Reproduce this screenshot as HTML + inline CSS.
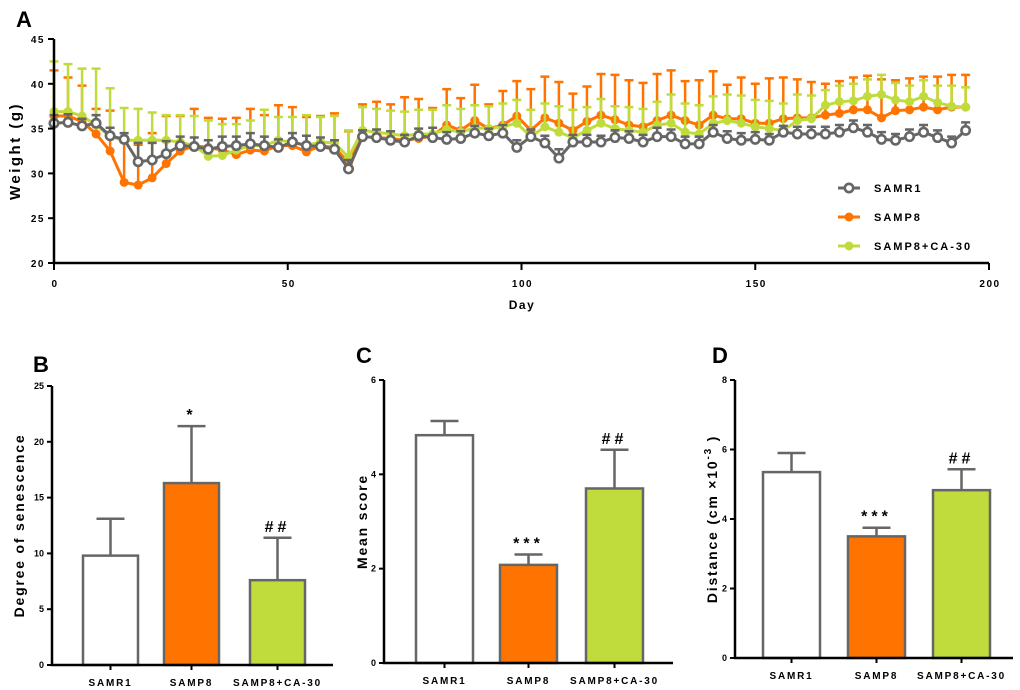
<!DOCTYPE html>
<html><head><meta charset="utf-8">
<style>
html,body{margin:0;padding:0;background:#fff;}
svg{display:block;font-family:"Liberation Sans",Arial,sans-serif;}
.tk{font-size:10px;font-weight:bold;letter-spacing:1.5px;fill:#000;}
.ttl{font-size:14px;font-weight:bold;letter-spacing:1.8px;fill:#000;}
.pl{font-size:22px;font-weight:bold;fill:#000;}
</style></head>
<body>
<svg id="fig" width="1020" height="690" viewBox="0 0 1020 690" xmlns="http://www.w3.org/2000/svg"></svg>
<script>
// ---- Panel A data ----
const days = [];
for (let d = 0; d <= 195; d += 3) days.push(d);
const samr1 = [35.6,35.7,35.3,35.6,34.2,33.8,31.3,31.5,32.2,33.1,33.0,32.7,33.0,33.1,33.3,33.1,32.9,33.5,33.1,33.0,32.7,30.5,
34.1,34.0,33.7,33.5,34.2,34.0,33.8,33.9,34.5,34.2,34.5,32.9,34.1,33.4,31.7,33.5,33.5,33.5,34.0,33.9,33.5,34.1,34.1,
33.3,33.3,34.6,33.9,33.7,33.8,33.7,34.6,34.4,34.4,34.4,34.6,35.1,34.6,33.8,33.7,34.1,34.6,34.0,33.4,34.8];
const samp8 = [36.4,36.4,35.8,34.4,32.5,29.0,28.7,29.5,31.1,32.5,33.1,32.9,32.6,32.1,32.6,32.5,33.1,33.1,32.4,33.1,32.9,31.2,
34.1,34.0,33.9,33.7,33.9,34.2,35.4,34.8,35.9,35.0,35.4,36.4,34.8,36.2,35.6,34.8,35.8,36.5,36.0,35.4,35.2,35.9,36.5,
35.9,35.4,36.5,36.1,36.1,35.6,35.6,36.1,36.2,36.2,36.5,36.7,37.1,37.1,36.2,37.0,37.1,37.4,37.1,37.4,37.4];
const ca30 = [36.9,36.9,36.4,35.4,34.1,33.7,33.7,33.7,33.7,33.5,33.1,31.9,32.0,32.6,33.1,33.1,33.7,33.5,33.1,33.5,33.4,31.8,
34.8,34.6,34.4,34.2,34.4,34.4,34.9,34.6,35.1,35.0,35.2,35.6,34.1,35.2,34.6,34.0,34.8,35.6,35.0,34.8,34.6,35.4,35.6,
34.6,34.4,35.6,35.9,35.6,35.2,35.0,34.8,35.9,36.1,37.6,38.0,38.1,38.6,38.8,38.2,38.0,38.6,37.9,37.5,37.4];
const errR1 = [0.9,0.9,0.8,0.9,0.9,0.7,2.1,1.9,1.4,1.0,1.0,1.0,1.1,1.0,1.2,1.0,0.9,1.0,1.1,1.0,1.0,1.0,
0.7,0.9,1.0,0.8,0.8,1.1,0.8,0.8,0.8,0.8,0.9,0.8,0.8,0.8,1.0,0.8,0.8,0.7,0.8,0.8,0.8,1.0,0.8,
0.8,0.8,0.8,0.8,0.8,0.8,0.7,0.7,0.8,0.8,0.8,0.8,0.8,0.8,0.8,0.7,0.8,0.8,0.8,0.7,0.9];
const errP8 = [5.1,4.3,4.0,2.8,4.5,4.5,4.5,5.0,5.3,3.9,4.1,3.3,3.5,4.1,4.6,4.0,4.5,4.3,3.9,3.3,3.8,3.5,
3.6,4.0,3.8,4.8,4.4,3.1,4.0,3.6,4.0,2.7,3.8,3.9,4.6,4.6,4.6,4.1,3.9,4.6,5.0,5.0,4.9,5.2,5.0,
4.4,5.0,4.9,3.8,4.6,4.4,5.0,4.6,4.3,4.0,3.5,3.6,3.6,3.8,4.3,3.4,3.5,3.4,3.7,3.6,3.6];
const errCA = [5.6,5.3,5.3,6.3,5.4,3.6,3.5,3.1,2.8,3.0,3.3,4.0,3.5,2.9,2.8,4.0,2.6,2.8,3.4,2.8,3.0,3.0,
2.6,2.6,2.6,2.7,2.7,2.7,2.7,2.6,2.5,2.5,2.6,2.6,3.0,2.6,2.9,3.1,2.6,2.7,2.5,2.6,2.6,2.6,3.2,
3.2,3.2,3.0,2.9,3.1,3.0,3.1,3.0,2.9,2.6,1.7,1.8,1.9,1.9,2.2,1.9,1.8,1.8,1.9,2.3,2.2];
const xTicksA = [0,50,100,150,200];
const yTicksA = [20,25,30,35,40,45];
// ---- Bar panels data ----
const groups = ["SAMR1","SAMP8","SAMP8+CA-30"];
const senescence = [9.8,16.3,7.6];
const senescenceErr = [3.3,5.1,3.8];
const meanScore = [4.83,2.08,3.7];
const meanScoreErr = [0.3,0.22,0.82];
const distance = [5.35,3.5,4.83];
const distanceErr = [0.55,0.25,0.6];
const sigB = ["","*","##"], sigC = ["","***","##"], sigD = ["","***","##"];

const NS = "http://www.w3.org/2000/svg";
const svg = document.getElementById("fig");
function el(tag, attrs, parent, text) {
  const e = document.createElementNS(NS, tag);
  for (const k in attrs) e.setAttribute(k, attrs[k]);
  if (text !== undefined) e.textContent = text;
  (parent || svg).appendChild(e);
  return e;
}
const GREY = "#666666", ORANGE = "#ff7300", GREEN = "#c0dc3c";

// ---------- Panel A ----------
const ax = d => 54 + (d / 200) * 935;
const ay = v => 263 - (v - 20) / 25 * 224;
const gA = el("g", {});


let t = el("text", {x: 16, y: 27, class: "pl"}, gA, "A");



function series(vals, errs, color, name) {
  const g = el("g", {}, gA);
  
  
  vals.forEach((v, i) => {
    const x = ax(days[i]), y1 = ay(v), y2 = ay(v + errs[i]);
    const eb = el("path", {d: `M${x},${y1}V${y2}M${x-4.5},${y2}H${x+4.5}`, stroke: color, "stroke-width": 2.5, fill: "none"}, g);
    
    
  });
  return g;
}
function line(vals, color, name, open, g) {
  const pts = vals.map((v, i) => ax(days[i]) + "," + ay(v)).join(" ");
  const pl = el("polyline", {points: pts, stroke: color, "stroke-width": 3, fill: "none"}, g);
  
  
  vals.forEach((v, i) => {
    const c = el("circle", {cx: ax(days[i]), cy: ay(v), r: open ? 4.2 : 4.5, fill: open ? "#fff" : color, stroke: color, "stroke-width": open ? 2.6 : 0}, g);
    
    
  });
}
const gP8 = series(samp8, errP8, ORANGE, "samp8");
const gCA = series(ca30, errCA, GREEN, "samp8-ca30");
line(ca30, GREEN, "samp8-ca30", false, gCA);
line(samp8, ORANGE, "samp8", false, gP8);
const gR1 = series(samr1, errR1, GREY, "samr1");
line(samr1, GREY, "samr1", true, gR1);

let a = el("path", {d: `M54,39V263H989`, stroke: "#000", "stroke-width": 2.5, fill: "none"}, gA);


yTicksA.forEach(v => {
  el("line", {x1: 48, x2: 54, y1: ay(v), y2: ay(v), stroke: "#000", "stroke-width": 2}, gA);
  const tt = el("text", {x: 45, y: ay(v) + 4, class: "tk", "text-anchor": "end"}, gA, v);
  
  
});
xTicksA.forEach(v => {
  el("line", {x1: ax(v), x2: ax(v), y1: 263, y2: 270, stroke: "#000", "stroke-width": 2}, gA);
  const tt = el("text", {x: ax(v) + 1, y: 287, class: "tk", "text-anchor": "middle"}, gA, v);
  
  
});
t = el("text", {x: 522, y: 309, class: "tk", "text-anchor": "middle", style: "font-size:12px"}, gA, "Day");


t = el("text", {x: 0, y: 0, class: "ttl", "text-anchor": "middle", transform: "translate(20,151) rotate(-90)", style: "font-size:15px;letter-spacing:2.5px"}, gA, "Weight (g)");



const legItems = [["SAMR1", GREY, true, 188], ["SAMP8", ORANGE, false, 217], ["SAMP8+CA-30", GREEN, false, 246]];
legItems.forEach(([lab, c, open, y]) => {
  const g = el("g", {}, gA);
  
  
  el("line", {x1: 838, x2: 860, y1: y, y2: y, stroke: c, "stroke-width": 3}, g);
  el("circle", {cx: 849, cy: y, r: open ? 4.2 : 4.5, fill: open ? "#fff" : c, stroke: c, "stroke-width": open ? 2.6 : 0}, g);
  el("text", {x: 874, y: y + 4, class: "tk", style: "font-size:11px;letter-spacing:2px"}, g, lab);
});

// ---------- Bar panels ----------
function barPanel(o) {
  const g = el("g", {});
  
  
  const y = v => o.y0 - v / o.max * (o.y0 - o.yTop);
  let tt = el("text", {x: o.lx, y: o.ly, class: "pl"}, g, o.label);
  
  
  const colors = ["#fff", ORANGE, GREEN];
  o.vals.forEach((v, i) => {
    const x0 = o.bars[i], cx = x0 + o.bw / 2;
    const top = y(v), et = y(v + o.errs[i]);
    const eb = el("path", {d: `M${cx},${top}V${et}M${cx-14},${et}H${cx+14}`, stroke: GREY, "stroke-width": 2.5, fill: "none"}, g);
    
    
    const r = el("rect", {x: x0, y: top, width: o.bw, height: o.y0 - top, fill: colors[i], stroke: GREY, "stroke-width": 2.5}, g);
    
    
    if (o.sig[i]) {
      const s = el("text", {x: cx, y: et - 6, "text-anchor": "middle", style: "font-size:16px;font-weight:bold;letter-spacing:4px", fill: "#000"}, g, o.sig[i]);
      
      
    }
    el("line", {x1: cx, x2: cx, y1: o.y0, y2: o.y0 + 5, stroke: "#000", "stroke-width": 2}, g);
    const lab = el("text", {x: cx, y: o.y0 + 21, class: "tk", "text-anchor": "middle", style: "font-size:10px;letter-spacing:1.8px"}, g, o.groups[i]);
    
    
  });
  const axp = el("path", {d: `M${o.ax},${o.yTop}V${o.y0}H${o.xEnd}`, stroke: "#000", "stroke-width": 2.5, fill: "none"}, g);
  
  
  o.ticks.forEach(v => {
    el("line", {x1: o.ax - 5, x2: o.ax, y1: y(v), y2: y(v), stroke: "#000", "stroke-width": 2}, g);
    const tl = el("text", {x: o.ax - 8, y: y(v) + 3, "text-anchor": "end", style: "font-size:9px;font-weight:bold", fill: "#000"}, g, v);
    
    
  });
  const yt = el("text", {x: 0, y: 0, "text-anchor": "middle", class: "ttl", transform: `translate(${o.tx},${(o.yTop + o.y0) / 2}) rotate(-90)`}, g);
  
  
  if (o.sup) {
    yt.appendChild(document.createTextNode("Distance (cm ×10"));
    el("tspan", {dy: -6, style: "font-size:10px"}, yt, "-3");
    el("tspan", {dy: 6}, yt, " )");
  } else yt.textContent = o.title;
}
barPanel({name: "senescence-chart", label: "B", lx: 33, ly: 372, ax: 52, yTop: 386, y0: 665, xEnd: 333, max: 25, ticks: [0,5,10,15,20,25],
  bars: [83,164,250], bw: 55, vals: senescence, errs: senescenceErr, sig: sigB, groups: groups, tx: 24, title: "Degree of senescence"});
barPanel({name: "mean-score-chart", label: "C", lx: 356, ly: 363, ax: 384, yTop: 380, y0: 663, xEnd: 673, max: 6, ticks: [0,2,4,6],
  bars: [416,500,586], bw: 57, vals: meanScore, errs: meanScoreErr, sig: sigC, groups: groups, tx: 367, title: "Mean score"});
barPanel({name: "distance-chart", label: "D", lx: 712, ly: 363, ax: 735, yTop: 380, y0: 658, xEnd: 1013, max: 8, ticks: [0,2,4,6,8],
  bars: [763,848,933], bw: 57, vals: distance, errs: distanceErr, sig: sigD, groups: groups, tx: 717, sup: true});
</script>
</body></html>
